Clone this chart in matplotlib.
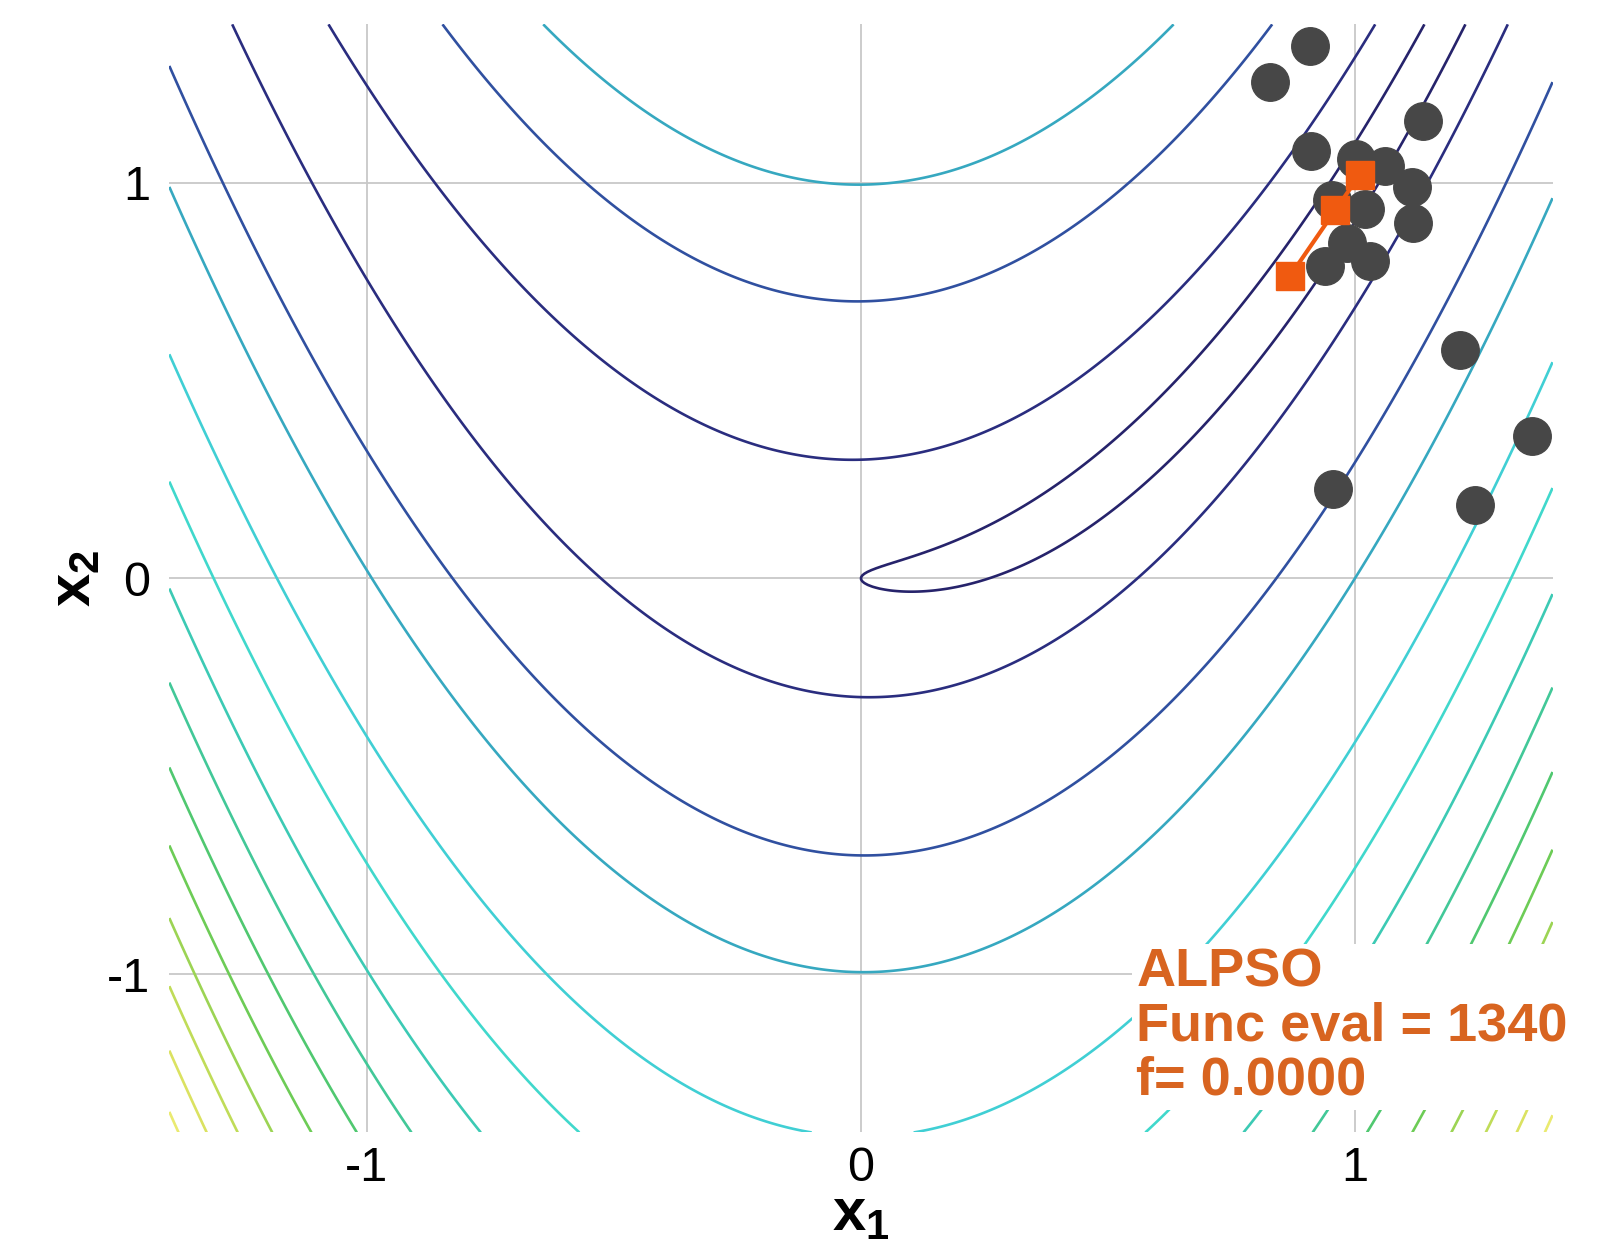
import numpy as np
import matplotlib
matplotlib.use("Agg")
import matplotlib.pyplot as plt
from matplotlib.colors import LinearSegmentedColormap

# ---- data -------------------------------------------------------------
x_range = [-1.4, 1.4]
y_range = [-1.4, 1.4]
contour_levels = [1, 10, 50, 100, 200, 300, 400, 500, 600, 700, 800, 900, 1000, 1100]

tick_values = [-1, 0, 1]
tick_labels = ["-1", "0", "1"]

# swarm particle positions
particle_x = [0.909, 0.828, 1.138, 0.912, 1.003, 1.061, 1.115, 1.118, 1.020,
              0.983, 1.030, 0.939, 0.953, 1.213, 1.358, 0.956, 1.243]
particle_y = [1.345, 1.255, 1.155, 1.079, 1.060, 1.042, 0.988, 0.898, 0.934,
              0.848, 0.803, 0.790, 0.957, 0.578, 0.361, 0.226, 0.185]

# best-point history
best_x = [0.868, 0.960, 1.010]
best_y = [0.763, 0.930, 1.020]

method_name = "ALPSO"
func_evals = 1340
f_best = 0.0

# ---- style ------------------------------------------------------------
plt.rcParams["font.family"] = ["Liberation Sans", "DejaVu Sans"]
plt.rcParams["axes.unicode_minus"] = False
plt.rcParams["mathtext.fontset"] = "custom"
plt.rcParams["mathtext.rm"] = "Liberation Sans"
plt.rcParams["mathtext.bf"] = "Liberation Sans:bold"

line_cmap = LinearSegmentedColormap.from_list(
    "rosen_lines",
    ["#26236b", "#2a2d80", "#3050a0", "#36a8c0", "#40d0d4", "#40d8cc",
     "#3ccab4", "#42c898", "#50c870", "#6ccc56", "#9cd454", "#c0dc58",
     "#dae260", "#eaea70"])
level_colors = [line_cmap(i / (len(contour_levels) - 1)) for i in range(len(contour_levels))]


def rosenbrock(x, y):
    return (1.0 - x) ** 2 + 100.0 * (y - x ** 2) ** 2


fig = plt.figure(figsize=(16.08, 12.42), dpi=100)
ax = fig.add_axes([0.1053, 0.0882, 0.8602, 0.8922])

gx = np.linspace(x_range[0], x_range[1], 600)
gy = np.linspace(y_range[0], y_range[1], 600)
GX, GY = np.meshgrid(gx, gy)
F = rosenbrock(GX, GY)

ax.contour(GX, GY, F, levels=contour_levels, colors=level_colors,
           linewidths=1.9, zorder=2)

ax.set_xlim(*x_range)
ax.set_ylim(*y_range)
ax.set_xticks(tick_values)
ax.set_xticklabels(tick_labels)
ax.set_yticks(tick_values)
ax.set_yticklabels(tick_labels)
ax.tick_params(axis="x", length=0, labelsize=35, pad=10)
ax.tick_params(axis="y", length=0, labelsize=35, pad=14)
for side in ax.spines.values():
    side.set_visible(False)
ax.grid(True, color="#c8c8c8", linewidth=1.3, zorder=1)
ax.set_axisbelow(True)

ax.set_xlabel(r"$\mathbf{x}_\mathbf{1}$", fontsize=43, labelpad=-3)
ax.set_ylabel(r"$\mathbf{x}_\mathbf{2}$", fontsize=43, labelpad=3)

# particles and best-point path
ax.plot(particle_x, particle_y, linestyle="none", marker="o", markersize=27,
        color="#474747", zorder=4)
ax.plot(best_x, best_y, color="#f05a10", linewidth=3, marker="s",
        markersize=20, zorder=5)

ax.text(0.699, 0.1665,
        f"{method_name}\nFunc eval = {func_evals}\nf= {f_best:.4f}",
        transform=ax.transAxes, ha="left", va="top", fontsize=39,
        fontweight="bold", color="#d86420", linespacing=1.1,
        bbox=dict(facecolor="white", edgecolor="none", boxstyle="square,pad=0.08"),
        zorder=6, clip_on=False)

fig.savefig("out.png", dpi=100, facecolor="white")
